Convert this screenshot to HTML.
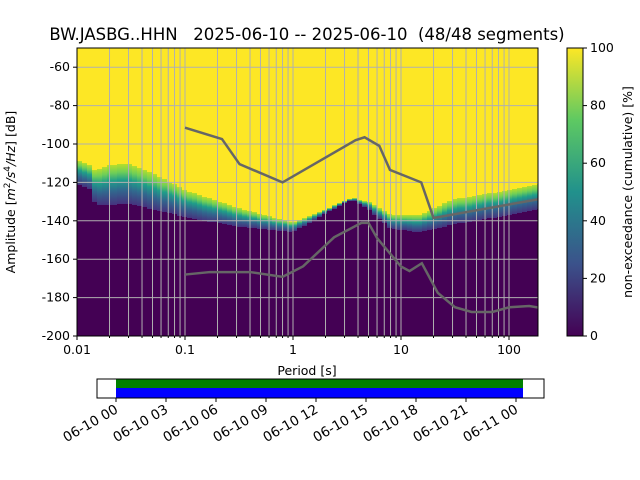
<!DOCTYPE html>
<html><head><meta charset="utf-8"><style>
body{margin:0;background:#fff}
svg{display:block;font-family:"DejaVu Sans","Liberation Sans",sans-serif}
</style></head><body>
<svg id="c" width="640" height="480" xmlns="http://www.w3.org/2000/svg">
<defs>
<linearGradient id="vir" x1="0" y1="0" x2="0" y2="1">
<stop offset="0" stop-color="#b5de2b"/><stop offset="0.2" stop-color="#6ece58"/><stop offset="0.4" stop-color="#1f9e89"/><stop offset="0.65" stop-color="#31688e"/><stop offset="1" stop-color="#46327e"/>
</linearGradient>
<linearGradient id="cbg" x1="0" y1="1" x2="0" y2="0">
<stop offset="0" stop-color="#440154"/><stop offset="0.25" stop-color="#3b528b"/><stop offset="0.5" stop-color="#21918c"/><stop offset="0.75" stop-color="#5ec962"/><stop offset="1" stop-color="#fde725"/>
</linearGradient>
<clipPath id="pc"><rect x="77" y="48" width="461" height="288"/></clipPath>
</defs>
<text x="307" y="40" font-size="16.5" text-anchor="middle" xml:space="preserve" style="white-space:pre">BW.JASBG..HHN   2025-06-10 -- 2025-06-10  (48/48 segments)</text>
<g id="plot" clip-path="url(#pc)"><g id="cols" shape-rendering="crispEdges"></g></g>
<g id="axes"></g>
</svg>
<script>
const periods=[0.01,0.013,0.015,0.02,0.03,0.05,0.1,0.3,1,2,3.5,5,8,15,30,100,190];
const purpleTop=[-121,-123,-132,-132,-131,-134,-138,-143,-146,-136,-129,-134,-144,-146,-142,-137,-134];
const yellowBottom=[-108,-111,-114,-111,-110,-115,-124,-133,-141,-134,-128,-130,-137,-137,-129,-124,-121];
const nhnmP=[0.1,0.22,0.32,0.8,3.8,4.6,6.3,7.9,15.4,20,354];
const nhnmDb=[-91.5,-97.4,-110.5,-120,-98,-96.5,-101,-113.5,-120,-138.5,-126];
const nlnmP=[0.1,0.17,0.4,0.8,1.24,2.4,4.3,5,6,10,12,15.6,21.9,31.6,45,70,101,154,328];
const nlnmDb=[-168,-166.7,-166.7,-169.2,-163.7,-148.6,-141.1,-141.1,-149,-163.8,-166.2,-162.1,-177.5,-185,-187.5,-187.5,-185,-184.4,-187.5];
const yTicks=[-60,-80,-100,-120,-140,-160,-180,-200];
const xTicks=[0.01,0.1,1,10,100];
const xTickLabels=["0.01","0.1","1","10","100"];
const cbTicks=[0,20,40,60,80,100];
const timeLabels=["06-10 00","06-10 03","06-10 06","06-10 09","06-10 12","06-10 15","06-10 18","06-10 21","06-11 00"];
const NS="http://www.w3.org/2000/svg";
const X=p=>77+108*(Math.log10(p)+2);
const Y=d=>336-(d+200)*1.92;
const Xinv=x=>Math.pow(10,(x-77)/108-2);
function mk(t,a,par){const e=document.createElementNS(NS,t);for(const k in a)e.setAttribute(k,a[k]);par.appendChild(e);return e;}
function interp(p,ps,vs){const lp=Math.log10(p);for(let i=0;i<ps.length-1;i++){const a=Math.log10(ps[i]),b=Math.log10(ps[i+1]);if(lp>=a&&lp<=b){return vs[i]+(vs[i+1]-vs[i])*(lp-a)/(b-a);}}return lp<Math.log10(ps[0])?vs[0]:vs[vs.length-1];}
const plot=document.getElementById('plot'),cols=document.getElementById('cols'),axes=document.getElementById('axes');
const bg=mk('rect',{x:77,y:48,width:461,height:288,fill:'#fde725'},cols);


for(let x=77;x<538;x+=5){
 const p=Xinv(x+2.5);
 const lo=Math.round(Y(interp(p,periods,purpleTop))),hi=Math.round(Y(interp(p,periods,yellowBottom)));
 const g=mk('g',{},cols);
 
 
 mk('rect',{x:x,y:lo,width:5,height:336-lo,fill:'#440154'},g);
 mk('rect',{x:x,y:hi,width:5,height:Math.max(0,lo-hi),fill:'url(#vir)'},g);
}
for(let e=-2;e<=2;e++)for(let m=1;m<10;m++){const p=m*Math.pow(10,e);const x=X(p);if(x>538)continue;
 const l=mk('line',{x1:x,x2:x,y1:48,y2:336,stroke:'#b0b0b0','stroke-width':1},plot);
 
 }
yTicks.forEach(d=>{const l=mk('line',{x1:77,x2:538,y1:Y(d),y2:Y(d),stroke:'#b0b0b0','stroke-width':1},plot);
 
 });
const pts=(ps,vs)=>ps.map((p,i)=>X(p)+','+Y(vs[i])).join(' ');
const nh=mk('polyline',{points:pts(nhnmP,nhnmDb),fill:'none',stroke:'#666','stroke-width':2.5},plot);


const nl=mk('polyline',{points:pts(nlnmP,nlnmDb),fill:'none',stroke:'#666','stroke-width':2.5},plot);


const fr=mk('rect',{x:77,y:48,width:461,height:288,fill:'none',stroke:'#000','stroke-width':1},axes);


yTicks.forEach(d=>{mk('line',{x1:73,x2:77,y1:Y(d),y2:Y(d),stroke:'#000'},axes);
 const t=mk('text',{x:70,y:Y(d)+4,'font-size':12.5,'text-anchor':'end'},axes);t.textContent=d;
 
 });
xTicks.forEach((p,i)=>{mk('line',{x1:X(p),x2:X(p),y1:336,y2:340,stroke:'#000'},axes);
 const t=mk('text',{x:X(p),y:354,'font-size':12.5,'text-anchor':'middle'},axes);t.textContent=xTickLabels[i];
 
 });
for(let e=-2;e<=2;e++)for(let m=2;m<10;m++){const x=X(m*Math.pow(10,e));if(x<538)mk('line',{x1:x,x2:x,y1:336,y2:338,stroke:'#000'},axes);}
const xl=mk('text',{x:307,y:375,'font-size':12.5,'text-anchor':'middle'},axes);xl.textContent='Period [s]';


const yl=mk('text',{x:0,y:0,'font-size':12.5,'text-anchor':'middle',transform:'translate(15,192) rotate(-90)'},axes);
yl.innerHTML='Amplitude [<tspan font-style="italic">m</tspan><tspan font-size="9" dy="-5">2</tspan><tspan dy="5" font-style="italic">/s</tspan><tspan font-size="9" dy="-5">4</tspan><tspan dy="5" font-style="italic">/Hz</tspan><tspan>] [dB]</tspan>';


const cb=mk('rect',{x:567,y:48,width:16,height:288,fill:'url(#cbg)',stroke:'#000','stroke-width':1},axes);


cbTicks.forEach(v=>{const y=336-v*2.88;mk('line',{x1:583,x2:587,y1:y,y2:y,stroke:'#000'},axes);
 const t=mk('text',{x:590,y:y+4,'font-size':12.5},axes);t.textContent=v;
 
 });
const cl=mk('text',{x:0,y:0,'font-size':12.5,'text-anchor':'middle',transform:'translate(632,192) rotate(-90)'},axes);cl.textContent='non-exceedance (cumulative) [%]';


const tl=mk('g',{},axes);


mk('rect',{x:116,y:379,width:407,height:9,fill:'#008000'},tl);
mk('rect',{x:116,y:388,width:407,height:10,fill:'#0000ff'},tl);
mk('rect',{x:97,y:379,width:447,height:19,fill:'none',stroke:'#000'},tl);
timeLabels.forEach((s,i)=>{const x=116+i*50;mk('line',{x1:x,x2:x,y1:398,y2:402,stroke:'#000'},tl);
 const t=mk('text',{x:0,y:0,'font-size':13.5,'text-anchor':'end',transform:`translate(${x+3},412) rotate(-30)`},tl);t.textContent=s;
 
 });
</script>
</body></html>
